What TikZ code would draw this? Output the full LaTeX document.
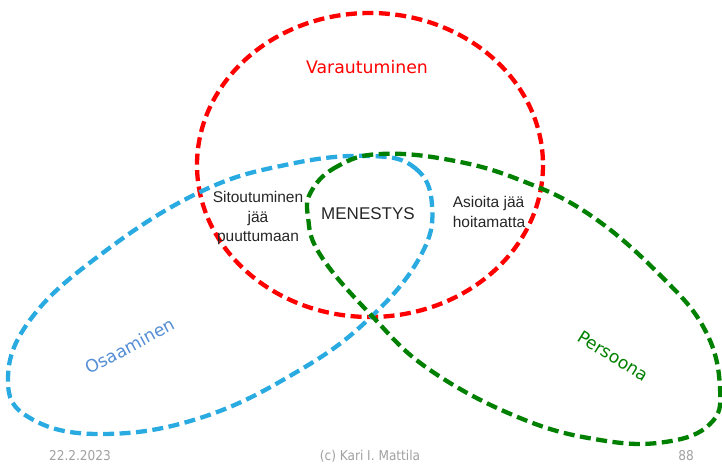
\documentclass[tikz,border=0pt]{standalone}
\usepackage{fontspec}
\setmainfont{Liberation Sans}
\newfontfamily\verdana{DejaVu Sans}
\newfontfamily\footfont{DejaVu Sans Condensed}

\definecolor{ringred}{RGB}{255,0,0}
\definecolor{ringblue}{RGB}{41,171,226}
\definecolor{ringgreen}{RGB}{0,128,0}
\definecolor{labelblue}{RGB}{85,142,213}
\definecolor{footgray}{RGB}{160,160,160}

\begin{document}
\begin{tikzpicture}[x=1pt,y=-1pt]
\tikzset{ring/.style={line width=4.3pt,dash pattern=on 11pt off 5.5pt}}
\tikzset{label/.style={font=\verdana\fontsize{17.3}{20}\selectfont,inner sep=0pt}}
\tikzset{area/.style={font=\fontsize{15.5}{19.5}\selectfont,align=center,inner sep=0pt,text=black!85}}
\tikzset{foot/.style={font=\footfont\fontsize{13.5}{15}\selectfont,text=footgray,inner sep=0pt}}

\useasboundingbox (0,0) rectangle (722,466);

% Varautuminen
\draw [ring,ringred] (370,165) ellipse [x radius=173, y radius=152];

% Osaaminen
\draw [ring,ringblue] plot [smooth cycle,tension=0.7] coordinates {
  (370,156) (415,168) (432,205) (421,255) (372,316) (300,370) (200,418)
  (100,434) (30,418) (8,380) (30,320) (100,255) (200,192) (290,164)};

% Persoona
\draw [ring,ringgreen] plot [smooth cycle,tension=0.7] coordinates {
  (380,154) (338,166) (312,190) (308,217) (321,256) (372,316) (430,370)
  (520,418) (600,440) (665,442) (710,424) (720,388) (705,330) (660,275)
  (590,215) (520,180) (450,160)};

\node (varaus) [label,text=ringred] at (367,67) {Varautuminen};
\node (osaam) [label,text=labelblue,rotate=28] at (130,346) {Osaaminen};
\node (perso) [label,text=ringgreen,rotate=-32] at (613,356) {Persoona};

\node (sitout) [area] at (258,218) {Sitoutuminen\\jää\\puuttumaan};
\node (menest) [area,font=\fontsize{17}{20}\selectfont] at (368,214) {MENESTYS};
\node (asioita) [area,align=left] at (489,212) {Asioita jää\\hoitamatta};

\node (pvm) [foot] at (80,456) {22.2.2023};
\node (tekija) [foot] at (370,456) {(c) Kari I. Mattila};
\node (sivu) [foot] at (686,456) {88};
\end{tikzpicture}
\end{document}
